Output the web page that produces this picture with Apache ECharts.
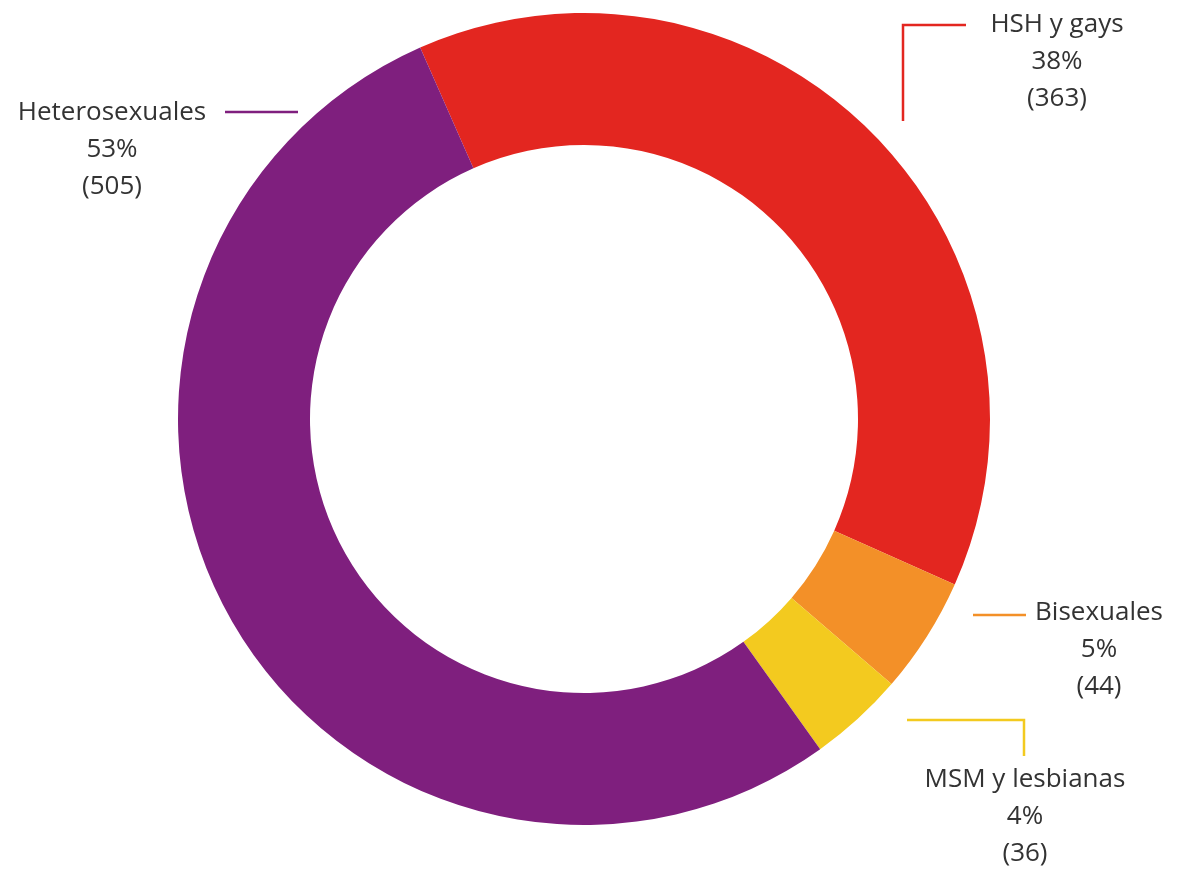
<!DOCTYPE html>
<html>
<head>
<meta charset="utf-8">
<script src="https://cdn.jsdelivr.net/npm/echarts@6/dist/echarts.min.js"></script>
<style>
    html, body { margin: 0; padding: 0; background: #fff; }
    #chartMain { width: 1178px; height: 869px; }
</style>
</head>
<body>
<div id="chartMain"></div>
<script>
    // datos del gráfico
    var categories = ['HSH y gays', 'Bisexuales', 'MSM y lesbianas', 'Heterosexuales'];
    var values = [363, 44, 36, 505];
    var colors = ['#e32620', '#f39028', '#f3ca1f', '#7f1f7e'];

    // posición de etiquetas y líneas (px)
    var labelPos = [
        { x: 1057, y: 62, line: [[903, 121], [903, 25], [966, 25]] },
        { x: 1099, y: 650, line: [[973, 615], [1026, 615]] },
        { x: 1025, y: 817, line: [[907, 720], [1024, 720], [1024, 756]] },
        { x: 112, y: 150, line: [[298, 112], [225, 112]] }
    ];

    var myChart = echarts.init(document.getElementById('chartMain'));

    var seriesData = categories.map(function (name, i) {
        return {
            name: name,
            value: values[i],
            itemStyle: { color: colors[i] },
            labelLine: { lineStyle: { color: colors[i], width: 2.5 } }
        };
    });

    myChart.setOption({
        animation: false,
        series: [{
            type: 'pie',
            center: [584, 419],
            radius: [274, 406],
            startAngle: 113.8,
            clockwise: true,
            avoidLabelOverlap: false,
            label: {
                show: true,
                position: 'outside',
                fontFamily: 'Open Sans',
                fontSize: 26,
                lineHeight: 37,
                color: '#333',
                align: 'center',
                formatter: function (p) {
                    return p.name + '\n' + Math.round(p.percent) + '%\n(' + p.value + ')';
                }
            },
            labelLine: { show: true, smooth: false },
            labelLayout: function (params) {
                var pos = labelPos[params.dataIndex];
                return {
                    x: pos.x,
                    y: pos.y,
                    align: 'center',
                    verticalAlign: 'middle',
                    labelLinePoints: pos.line
                };
            },
            data: seriesData
        }]
    });
</script>
</body>
</html>
